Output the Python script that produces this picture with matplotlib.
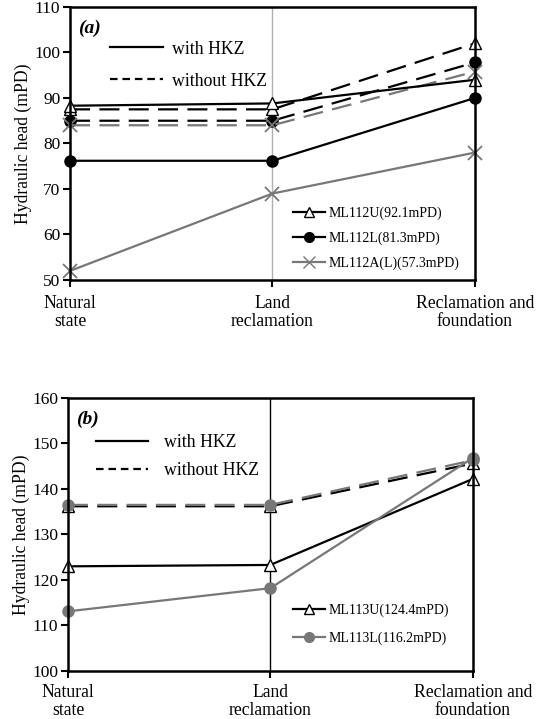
import matplotlib
matplotlib.use("Agg")
import matplotlib.pyplot as plt
from matplotlib.lines import Line2D

plt.rcParams['font.family'] = ['Liberation Serif', 'DejaVu Serif']

categories = ["Natural\nstate", "Land\nreclamation", "Reclamation and\nfoundation"]

# Panel (a)
a_u_with = [88.3, 88.8, 94.0]
a_u_without = [87.5, 87.5, 102.0]
a_l_with = [76.2, 76.2, 90.0]
a_l_without = [85.0, 85.0, 97.8]
a_al_with = [52.0, 69.0, 78.0]
a_al_without = [84.0, 84.0, 95.8]
a_labels = ["ML112U(92.1mPD)", "ML112L(81.3mPD)", "ML112A(L)(57.3mPD)"]

# Panel (b)
b_u_with = [123.0, 123.3, 142.2]
b_u_without = [136.2, 136.2, 145.6]
b_l_with = [113.1, 118.2, 146.8]
b_l_without = [136.5, 136.5, 146.3]
b_labels = ["ML113U(124.4mPD)", "ML113L(116.2mPD)"]

GRAY = "#777777"
x = list(range(len(categories)))

fig = plt.figure(figsize=(5.39, 7.19), dpi=100)
axa = fig.add_axes([0.130, 0.6106, 0.751, 0.3797])
axb = fig.add_axes([0.126, 0.0668, 0.751, 0.3797])

DASH = (9, 4.2)
LW = 1.6

def style(ax, ylim, yticks, vcolor, vlw, xpad):
    ax.set_xlim(0, 2)
    ax.set_ylim(*ylim)
    ax.set_yticks(yticks)
    ax.set_xticks(x)
    ax.set_xticklabels(categories, fontsize=12.7, linespacing=1.05)
    ax.tick_params(axis='both', direction='out', length=5, width=1.5)
    ax.tick_params(axis='y', labelsize=12.5, pad=2)
    ax.tick_params(axis='x', pad=xpad)
    for s in ax.spines.values():
        s.set_linewidth(1.8)
    ax.axvline(1, color=vcolor, lw=vlw, zorder=0)
    ax.set_ylabel("Hydraulic head (mPD)", fontsize=12.7, labelpad=1.5)

# ---- Panel (a)
axa.plot(x, a_u_without, color='black', lw=LW, dashes=DASH, marker='^', ms=9, mfc='white', mec='black', clip_on=False)
axa.plot(x, a_l_without, color='black', lw=LW, dashes=DASH, marker='o', ms=8, mfc='black', mec='black', clip_on=False)
axa.plot(x, a_al_without, color=GRAY, lw=LW, dashes=DASH, marker='x', ms=10, mew=1.3, clip_on=False)
axa.plot(x, a_u_with, color='black', lw=LW, marker='^', ms=9, mfc='white', mec='black', clip_on=False)
axa.plot(x, a_l_with, color='black', lw=LW, marker='o', ms=8, mfc='black', mec='black', clip_on=False)
axa.plot(x, a_al_with, color=GRAY, lw=LW, marker='x', ms=10, mew=1.3, clip_on=False)
style(axa, (50, 110), range(50, 111, 10), "#b0b0b0", 1.0, 6)
axa.text(0.02, 0.955, "(a)", transform=axa.transAxes, fontsize=14, fontweight='bold', fontstyle='italic', va='top')

h1 = [Line2D([], [], color='black', lw=1.6), Line2D([], [], color='black', lw=1.6, dashes=(3.4, 2.2))]
leg1 = axa.legend(h1, ["with HKZ", "without HKZ"], loc='upper left', bbox_to_anchor=(0.081, 0.903),
                  frameon=False, fontsize=12.8, handlelength=2.98, handletextpad=0.5, labelspacing=0.85,
                  borderaxespad=0)
axa.add_artist(leg1)
h2 = [Line2D([], [], color='black', lw=1.6, marker='^', ms=7, mfc='white'),
      Line2D([], [], color='black', lw=1.6, marker='o', ms=7),
      Line2D([], [], color=GRAY, lw=1.6, marker='x', ms=8)]
axa.legend(h2, a_labels, loc='upper left', bbox_to_anchor=(0.537, 0.29), frameon=False, fontsize=10,
           handlelength=2.3, handletextpad=0.25, labelspacing=0.85, borderaxespad=0)

# ---- Panel (b)
axb.plot(x, b_u_without, color='black', lw=LW, dashes=DASH, marker='^', ms=9, mfc='white', mec='black', clip_on=False)
axb.plot(x, b_l_without, color=GRAY, lw=LW, dashes=DASH, marker='o', ms=8, mfc=GRAY, mec=GRAY, clip_on=False)
axb.plot(x, b_u_with, color='black', lw=LW, marker='^', ms=9, mfc='white', mec='black', clip_on=False)
axb.plot(x, b_l_with, color=GRAY, lw=LW, marker='o', ms=8, mfc=GRAY, mec=GRAY, clip_on=False)
style(axb, (100, 160), range(100, 161, 10), "black", 1.0, 4.5)
axb.text(0.02, 0.955, "(b)", transform=axb.transAxes, fontsize=14, fontweight='bold', fontstyle='italic', va='top')

leg3 = axb.legend(h1, ["with HKZ", "without HKZ"], loc='upper left', bbox_to_anchor=(0.052, 0.893),
                  frameon=False, fontsize=12.8, handlelength=2.9, handletextpad=0.9, labelspacing=0.62,
                  borderaxespad=0)
axb.add_artist(leg3)
h4 = [Line2D([], [], color='black', lw=1.6, marker='^', ms=7, mfc='white'),
      Line2D([], [], color=GRAY, lw=1.6, marker='o', ms=7, mfc=GRAY, mec=GRAY)]
axb.legend(h4, b_labels, loc='upper left', bbox_to_anchor=(0.542, 0.269), frameon=False, fontsize=10,
           handlelength=2.3, handletextpad=0.3, labelspacing=1.06, borderaxespad=0)

fig.savefig("out.png", dpi=100)
